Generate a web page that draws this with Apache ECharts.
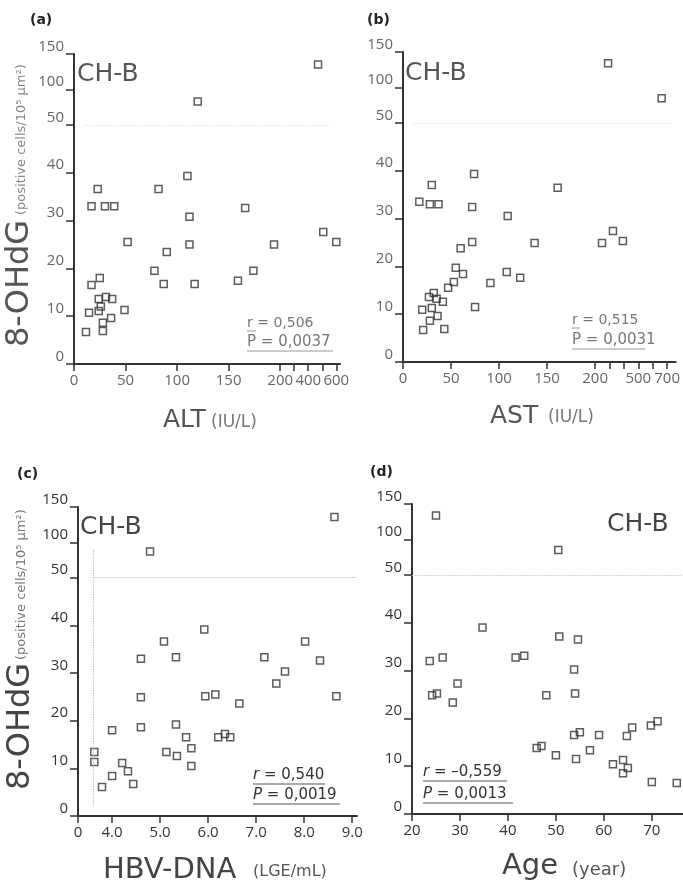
<!DOCTYPE html>
<html><head><meta charset="utf-8">
<script src="https://cdn.jsdelivr.net/npm/echarts@6/dist/echarts.min.js"></script>
<style>html,body{margin:0;padding:0;background:#fff}#c{width:683px;height:885px}</style>
</head><body><div id="c"></div>
<script>
// ---- data ----
const altX=[470,120,110,23,82,17,30,39,166,112,52,90,112,194,507,600,78,87,117,159,174,17,25,14.6,24,31,37,26,24,36,28,28,11.6,49];
const altY=[135,83,39.3,36.6,36.6,33,33,33,32.6,30.8,25.5,23.4,25,25,27.6,25.5,19.5,16.7,16.7,17.4,19.5,16.5,18,10.7,13.6,14,13.6,12,11.1,9.6,8.6,6.9,6.7,11.3];
const astX=[290,662,74,30,161,17,28,37,72,109,72,60,137,248,324,393,55,62.5,108,122,91,53,47,75,20,30,27,32,35,41.5,36,28,21,43];
const astY=[134,84.7,39.3,37,36.4,33.5,33,33,32.4,30.5,25.1,23.8,24.9,24.9,27.4,25.3,19.7,18.4,18.8,17.6,16.5,16.7,15.5,11.5,10.9,11.3,13.6,14.4,13.2,12.6,9.6,8.6,6.7,6.9];
const hbvX=[8.63,4.79,5.92,5.08,8.02,4.6,5.33,7.17,8.33,7.42,7.6,8.67,4.6,5.94,6.15,6.65,4.6,4.0,5.33,5.54,6.21,6.35,6.46,5.65,5.13,5.35,5.65,3.63,3.63,4.21,4.33,4.0,3.79,4.44];
const hbvY=[136,86.8,39.1,36.6,36.6,33,33.3,33.3,32.6,27.8,30.3,25.1,24.9,25.1,25.5,23.6,18.6,18,19.2,16.5,16.5,17.2,16.5,14.2,13.4,12.6,10.5,13.4,11.3,11.1,9.4,8.4,6.1,6.7];
const ageX=[25,50.5,34.7,50.7,54.6,23.7,26.4,41.6,43.4,53.8,29.5,24.2,25.2,28.5,48,54,53.8,55,59,64.8,65.9,69.8,71.2,46,47,50,57.1,54.2,61.9,64,65,64,70,75.2];
const ageY=[133.8,85,39,37.1,36.5,32,32.7,32.7,33.1,30.2,27.3,24.8,25.2,23.3,24.8,25.2,16.5,17.1,16.5,16.3,18.1,18.5,19.4,13.8,14.2,12.3,13.3,11.5,10.4,11.3,9.6,8.5,6.7,6.5];

// ---- tick labels ----
const yTickValues=[0,10,20,30,40,50,100,150];
const altTickValues=[0,50,100,150,200,300,400,500,600];
const altLabelValues=[0,50,100,150,200,400,600];
const astTickValues=[0,50,100,150,200,300,400,500,600,700];
const astLabelValues=[0,50,100,150,200,500,700];
const hbvTickValues=[4,5,6,7,8,9];
const ageTickValues=[20,30,40,50,60,70];
const stats=[["0,506","0,0037"],["0,515","0,0031"],["0,540","0,0019"],["\u20130,559","0,0013"]];

// ---- broken-axis scales ----
const KY=7.4;
const ty=v=>v<=50?v:50+(v-50)/50*KY;
const tyInv=d=>d<=50.0001?d:50+(d-50)/KY*50;
const mkTx=k=>v=>v<=200?v:200+(v-200)*k;
const mkTxInv=k=>d=>d<=200.0001?d:200+(d-200)/k;
const KA=0.136,KB=0.15;
const txA=mkTx(KA),txB=mkTx(KB),txAi=mkTxInv(KA),txBi=mkTxInv(KB);
const HBV0=3.29; // position of the "0" label on the broken HBV axis

const FF="'DejaVu Sans'";
const TF="'Open Sans'";
const axisCol='#333';
const grids=[
 {left:74,top:54,width:266,height:310},
 {left:403,top:52,width:273,height:310},
 {left:78,top:507,width:279,height:309},
 {left:412,top:504,width:271,height:310}
];
const labCols=['#666','#666','#333','#333'];

function yAxis(i){
  const cv=yTickValues.map(ty);
  return {type:'value',gridIndex:i,min:0,max:ty(150),
    axisLine:{show:true,onZero:false,lineStyle:{color:axisCol,width:2}},
    axisTick:{show:true,customValues:cv,length:8,lineStyle:{color:axisCol,width:1.5}},
    axisLabel:{customValues:cv,formatter:v=>String(Math.round(tyInv(v))),color:labCols[i],fontSize:15,fontFamily:TF,verticalAlign:'bottom',margin:10},
    splitLine:{show:false}};
}
function xAxis(i,min,max,ticks,labels,fmt){
  return {type:'value',gridIndex:i,min:min,max:max,
    axisLine:{show:true,onZero:false,lineStyle:{color:axisCol,width:2}},
    axisTick:{show:true,customValues:ticks,length:7,lineStyle:{color:axisCol,width:1.5}},
    axisLabel:{customValues:labels,formatter:fmt,color:labCols[i],fontSize:15,fontFamily:TF,margin:9},
    splitLine:{show:false}};
}
const xAxes=[
  xAxis(0,0,258,altTickValues.map(txA),altLabelValues.map(txA),v=>String(Math.round(txAi(v)))),
  xAxis(1,0,284,astTickValues.map(txB),astLabelValues.map(txB),v=>String(Math.round(txBi(v)))),
  xAxis(2,HBV0,9.1,[HBV0].concat(hbvTickValues),[HBV0].concat(hbvTickValues),v=>v<3.5?'0':v.toFixed(1)),
  xAxis(3,20,76.5,ageTickValues,ageTickValues,v=>String(v))
];
const yAxes=[0,1,2,3].map(yAxis);

const sym={symbol:'rect',symbolSize:7,itemStyle:{color:'rgba(255,255,255,0)',borderColor:'#333',borderWidth:1.5}};
function series(i,xs,ys,fx,ml){
  return Object.assign({type:'scatter',xAxisIndex:i,yAxisIndex:i,silent:true,clip:false,
    data:xs.map((x,j)=>[fx(x),ty(ys[j])]),
    markLine:{silent:true,symbol:'none',label:{show:false},animation:false,
      lineStyle:{type:'dotted',color:ml.color,width:1.2},data:ml.data}},sym);
}
const seriesArr=[
  series(0,altX,altY,txA,{color:'#e2e2e2',data:[[{coord:[10,50]},{coord:[250,50]}]]}),
  series(1,astX,astY,txB,{color:'#e2e2e2',data:[[{coord:[10,50]},{coord:[280,50]}]]}),
  series(2,hbvX,hbvY,v=>v,{color:'#bbb',data:[[{coord:[3.6,50]},{coord:[9.1,50]}],[{coord:[3.6,2]},{coord:[3.6,ty(90)]}]]}),
  series(3,ageX,ageY,v=>v,{color:'#c4c4c4',data:[[{coord:[20,50]},{coord:[76.5,50]}]]})
];

// ---- annotations ----
function T(text,x,y,size,o){
  o=o||{};
  return {type:'text',x:x,y:y,rotation:o.rot||0,silent:true,
    style:{text:text,font:(o.w||'normal')+' '+size+'px '+(o.f||FF),fill:o.c||'#444',
      textAlign:o.a||'left',textVerticalAlign:'middle',align:o.a||'left',verticalAlign:'middle',rich:o.rich}};
}
function L(x1,y1,x2,y2,c,dash){
  return {type:'line',silent:true,shape:{x1:x1,y1:y1,x2:x2,y2:y2},style:{stroke:c||'#666',lineWidth:1,lineDash:dash||null}};
}
const it={i:{fontStyle:'italic',font:'italic 15px '+FF,fill:'#333'}};
const g=[
  T('(a)',30,20,14,{w:'bold',c:'#222'}),T('(b)',367,20,14,{w:'bold',c:'#222'}),
  T('(c)',17,474,14,{w:'bold',c:'#222'}),T('(d)',370,472,14,{w:'bold',c:'#222'}),
  T('CH-B',77,74,25,{c:'#555'}),T('CH-B',405,73,25,{c:'#555'}),
  T('CH-B',80,527,25,{c:'#444'}),T('CH-B',607,524,25,{c:'#444'}),
  // y titles
  T('8-OHdG',20,347,32,{rot:Math.PI/2,c:'#555'}),
  T('(positive cells/10\u2075 \u03bcm\u00b2)',22,215,13,{rot:Math.PI/2,c:'#888'}),
  T('8-OHdG',21,790,32,{rot:Math.PI/2,c:'#444'}),
  T('(positive cells/10\u2075 \u03bcm\u00b2)',22,660,13,{rot:Math.PI/2,c:'#777'}),
  // x titles
  T('ALT',163,420,25,{c:'#555'}),T('(IU/L)',211,423,17,{c:'#777'}),
  T('AST',490,416,25,{c:'#555'}),T('(IU/L)',548,418,17,{c:'#777'}),
  T('HBV-DNA',103,870,29,{c:'#444'}),T('(LGE/mL)',253,872,16,{c:'#555'}),
  T('Age',502,866,29,{c:'#444'}),T('(year)',572,870,18,{c:'#555'}),
  // stats
  T('r = '+stats[0][0],247,323,14,{c:'#777'}),T('P = '+stats[0][1],247,342,15,{c:'#777'}),
  L(247,331,256,331,'#999'),L(247,351,333,351,'#999'),
  T('r = '+stats[1][0],572,320,14,{c:'#777'}),T('P = '+stats[1][1],572,340,15,{c:'#777'}),
  L(572,328,580,328,'#999'),L(572,349,645,349,'#999'),
  T('{i|r} = '+stats[2][0],253,775,15,{c:'#333',rich:it}),T('{i|P} = '+stats[2][1],253,795,15,{c:'#333',rich:it}),
  L(253,784,325,784,'#555'),L(253,804,340,804,'#555'),
  T('{i|r} = '+stats[3][0],423,772,15,{c:'#333',rich:it}),T('{i|P} = '+stats[3][1],423,794,15,{c:'#333',rich:it}),
  L(423,781,507,781,'#555'),L(423,803,513,803,'#555')
];

const chart=echarts.init(document.getElementById('c'),null,{renderer:'canvas'});
chart.setOption({animation:false,backgroundColor:'#fff',grid:grids,xAxis:xAxes,yAxis:yAxes,series:seriesArr,graphic:g});
</script></body></html>
